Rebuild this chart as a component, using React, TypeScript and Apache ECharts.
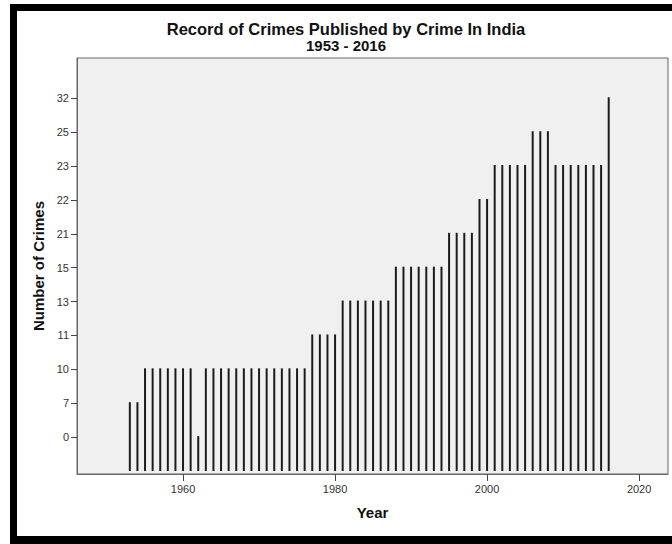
import React, { useEffect, useRef } from "react";
import * as echarts from "echarts";

const years = [
  1953, 1954, 1955, 1956, 1957, 1958, 1959, 1960, 1961, 1962,
  1963, 1964, 1965, 1966, 1967, 1968, 1969, 1970, 1971, 1972,
  1973, 1974, 1975, 1976, 1977, 1978, 1979, 1980, 1981, 1982,
  1983, 1984, 1985, 1986, 1987, 1988, 1989, 1990, 1991, 1992,
  1993, 1994, 1995, 1996, 1997, 1998, 1999, 2000, 2001, 2002,
  2003, 2004, 2005, 2006, 2007, 2008, 2009, 2010, 2011, 2012,
  2013, 2014, 2015, 2016,
];

const crimes = [
  7, 7, 10, 10, 10, 10, 10, 10, 10, 0,
  10, 10, 10, 10, 10, 10, 10, 10, 10, 10,
  10, 10, 10, 10, 11, 11, 11, 11, 13, 13,
  13, 13, 13, 13, 13, 15, 15, 15, 15, 15,
  15, 15, 21, 21, 21, 21, 22, 22, 23, 23,
  23, 23, 23, 25, 25, 25, 23, 23, 23, 23,
  23, 23, 23, 32,
];

// Y axis is categorical in the original (equally spaced distinct values)
const yCategories = [0, 7, 10, 11, 13, 15, 21, 22, 23, 25, 32];
const xTicks = [1960, 1980, 2000, 2020];

const titleLine1 = "Record of Crimes Published by Crime In India";
const titleLine2 = "1953 - 2016";

const Y_MIN = -1.09;
const Y_MAX = 11.19;
const X_MIN = 1946.05;
const X_MAX = 2023.8;

export default function App() {
  const ref = useRef<HTMLDivElement>(null);

  useEffect(() => {
    if (!ref.current) return;
    const chart = echarts.init(ref.current, undefined, { renderer: "svg" });
    const data = years.map((y, i) => [y, yCategories.indexOf(crimes[i])]);
    const font = "'Liberation Sans', Arial, sans-serif";
    const yIdx = yCategories.map((_, i) => i);

    chart.setOption({
      animation: false,
      backgroundColor: "#ffffff",
      textStyle: { fontFamily: font },
      graphic: [
        { type: "rect", shape: { x: 10, y: 4, width: 7, height: 540 }, style: { fill: "#000" }, z: 100 },
        { type: "rect", shape: { x: 10, y: 4, width: 662, height: 7 }, style: { fill: "#000" }, z: 100 },
        { type: "rect", shape: { x: 10, y: 536, width: 662, height: 8 }, style: { fill: "#000" }, z: 100 },
        {
          type: "text",
          x: 346,
          y: 29,
          style: {
            text: titleLine1,
            align: "center",
            verticalAlign: "middle",
            fontFamily: font,
            fontSize: 16.5,
            fontWeight: "bold",
            fill: "#111",
          },
          z: 100,
        },
        {
          type: "text",
          x: 346,
          y: 45,
          style: {
            text: titleLine2,
            align: "center",
            verticalAlign: "middle",
            fontFamily: font,
            fontSize: 15,
            fontWeight: "bold",
            fill: "#111",
          },
          z: 100,
        },
      ],
      grid: {
        left: 77,
        top: 58,
        right: 4,
        bottom: 70,
        show: true,
        backgroundColor: "#f0f0f0",
        borderColor: "#666",
        borderWidth: 1,
      },
      xAxis: {
        type: "value",
        min: X_MIN,
        max: X_MAX,
        name: "Year",
        nameLocation: "middle",
        nameGap: 31,
        nameTextStyle: { fontFamily: font, fontSize: 15, fontWeight: "bold", color: "#111" },
        axisLine: { show: true, onZero: false, lineStyle: { color: "#666", width: 1 } },
        axisTick: { show: true, length: 7, lineStyle: { color: "#444" }, customValues: xTicks },
        axisLabel: {
          customValues: xTicks,
          fontFamily: font,
          fontSize: 11,
          color: "#333",
          margin: 9,
          formatter: (v: number) => String(v),
        },
        splitLine: { show: false },
      },
      yAxis: {
        type: "value",
        min: Y_MIN,
        max: Y_MAX,
        name: "Number of Crimes",
        nameLocation: "middle",
        nameGap: 31,
        nameTextStyle: { fontFamily: font, fontSize: 15, fontWeight: "bold", color: "#111" },
        axisLine: { show: true, onZero: false, lineStyle: { color: "#666", width: 1 } },
        axisTick: {
          show: true,
          length: 6,
          lineStyle: { color: "#444" },
          customValues: yIdx,
        },
        axisLabel: {
          customValues: yIdx,
          fontFamily: font,
          fontSize: 11,
          color: "#333",
          margin: 8,
          formatter: (v: number) => String(yCategories[Math.round(v)]),
        },
        splitLine: { show: false },
      },
      series: [
        {
          type: "custom",
          data,
          encode: { x: 0, y: 1 },
          renderItem: (params: any, api: any) => {
            const x = api.value(0);
            const v = api.value(1);
            const top = api.coord([x, v]);
            const base = api.coord([x, Y_MIN]);
            return {
              type: "rect",
              shape: { x: top[0] - 1, y: top[1] - 1, width: 2, height: base[1] - 3 - top[1] + 1 },
              style: { fill: "#1c1c1c" },
            };
          },
        },
      ],
    });

    return () => chart.dispose();
  }, []);

  return (
    <div
      ref={ref}
      style={{ position: "fixed", left: 0, top: 0, width: 672, height: 544 }}
    />
  );
}
